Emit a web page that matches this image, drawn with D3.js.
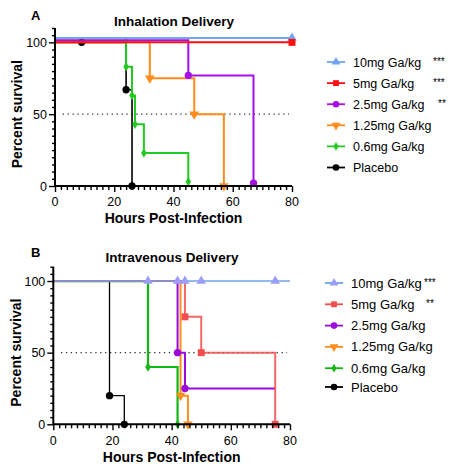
<!DOCTYPE html>
<html><head><meta charset="utf-8">
<script src="https://cdn.jsdelivr.net/npm/d3@7"></script>
<style>body{margin:0;background:#fff}text{font-family:"Liberation Sans",Arial,sans-serif}</style>
</head><body><svg id="c" width="451" height="464"></svg>
<script>
// ---------- data ----------
const groups = ["10mg Ga/kg","5mg Ga/kg","2.5mg Ga/kg","1.25mg Ga/kg","0.6mg Ga/kg","Placebo"];
const symbolsA = ["triangle","square","circle","triangleDown","diamond","circle"];
const xTicks = [0,20,40,60,80];
const yTicks = [0,50,100];

// Panel A (inhalation): start value, events [time, new survival], end time, censor marks
const inhStart = [103, 100, 101.5, 100, 102.8, 100];
const inhEvents = [
  [],
  [],
  [[45,77],[67,2]],
  [[32,75],[47,50],[57,0]],
  [[24,83],[26,63],[27,43],[30,23],[45,3]],
  [[24,67],[26,0]]
];
const inhEnd = [80, 80, 67, 57, 45, 26];
const inhCensor = [[[80,103]],[[80,100]],[],[],[],[[9,100]]];
const inhStars = ["***","***","**","","",""];

// Panel B (intravenous)
const ivStart = [100, 100, 100, 100, 100, 100];
const ivEvents = [
  [],
  [[44.5,75],[50,50],[75,0]],
  [[42,50],[44.5,25]],
  [[43,20],[45.5,0]],
  [[32,40],[42,0]],
  [[19,20],[24,0]]
];
const ivEnd = [80, 75, 75, 45.5, 42, 24];
const ivCensor = [[[32,100],[42,100],[44.5,100],[50,100],[75,100]],[],[],[],[],[]];
const ivStars = ["***","**","","","",""];

// ---------- styling ----------
const colA = ["#6fa6f2","#ff1010","#a610e8","#ff8c1a","#22c922","#000000"];
const colB = ["#72a2ee","#f44d4d","#9a0ad8","#ff8e1e","#14b814","#000000"];
const mkB0 = "#9d9cf7";

const svg = d3.select("#c");
const symMap = {triangle:d3.symbolTriangle, square:d3.symbolSquare, circle:d3.symbolCircle, diamond:d3.symbolDiamond};
function sym(g, name, x, y, color, size){
  let s = name==="triangleDown" ? d3.symbolTriangle : symMap[name];
  let sz = size || (name==="square"?48:name==="diamond"?26:name.startsWith("triangle")?40:42);
  g.append("path").attr("d", d3.symbol().type(s).size(sz)())
   .attr("transform", `translate(${x},${y})` + (name==="triangleDown"?" rotate(180)":""))
   .attr("fill", color);
}

function panel(cfg){
  const x = d3.scaleLinear().domain([0,80]).range([cfg.x0, cfg.x1]);
  const y = d3.scaleLinear().domain([0,110]).range([cfg.y0, cfg.y1]);
  const g = svg.append("g");
  // titles
  g.append("text").attr("x",cfg.letterX).attr("y",cfg.letterY).attr("font-weight","bold").attr("font-size",13).text(cfg.letter);
  g.append("text").attr("x",cfg.titleX).attr("y",cfg.titleY).attr("text-anchor","middle").attr("font-weight","bold").attr("font-size",13.5).text(cfg.title);
  g.append("text").attr("transform",`translate(${cfg.ylabX},${(y(0)+y(100))/2}) rotate(-90)`).attr("text-anchor","middle").attr("font-weight","bold").attr("font-size",14).text("Percent survival");
  g.append("text").attr("x",(x(0)+x(80))/2).attr("y",cfg.xlabY).attr("text-anchor","middle").attr("font-weight","bold").attr("font-size",14).text("Hours Post-Infection");
  // dotted median line
  g.append("line").attr("x1",x(2.6)).attr("x2",x(79)).attr("y1",y(50)).attr("y2",y(50))
   .attr("stroke","#333").attr("stroke-width",1.2).attr("stroke-dasharray","1.3,3.6");
  // curves
  const line = d3.line().x(d=>x(d[0])).y(d=>y(d[1])).curve(d3.curveStepAfter);
  cfg.order.forEach(i=>{
    const pts = [[0,cfg.start[i]], ...cfg.events[i]];
    const last = pts[pts.length-1][1];
    pts.push([cfg.end[i], last]);
    g.append("path").attr("d",line(pts)).attr("fill","none").attr("stroke",cfg.col[i])
      .attr("stroke-width",cfg.lw[i]).attr("stroke-opacity",cfg.op ? cfg.op[i] : 1);
    cfg.events[i].forEach(e=>sym(g, symbolsA[i], x(e[0]), y(e[1]), cfg.col[i]));
    cfg.censor[i].forEach(e=>sym(g, symbolsA[i], x(e[0]), y(e[1]), cfg.mk0 && i===0 ? cfg.mk0 : cfg.col[i]));
  });
  // axes
  const ax = g.append("g").attr("transform",`translate(0,${y(0)})`);
  ax.call(d3.axisBottom(x).tickValues(d3.range(0,81,2)).tickSize(4).tickFormat(""));
  ax.call(g2=>g2.selectAll(".tick").filter(d=>d%20===0).select("line").attr("y2",6));
  ax.selectAll("text").remove();
  xTicks.forEach(t=>ax.append("text").attr("x",x(t)).attr("y",cfg.xtickDy).attr("text-anchor","middle").attr("font-size",12.5).attr("fill","#000").text(t));
  const ay = g.append("g").attr("transform",`translate(${x(0)},0)`);
  ay.call(d3.axisLeft(y).tickValues(d3.range(0,111,5)).tickSize(3).tickFormat(""));
  ay.call(g2=>g2.selectAll(".tick").filter(d=>d%50===0).select("line").attr("x2",-6));
  yTicks.forEach(t=>ay.append("text").attr("x",-8).attr("y",y(t)+4.5).attr("text-anchor","end").attr("font-size",12.5).attr("fill","#000").text(t));
  [ax,ay].forEach(a=>{a.select(".domain").attr("stroke-width",2).attr("stroke","#000");
    a.selectAll(".tick line").attr("stroke-width",1.4).attr("stroke","#000");});
  ay.select(".domain").attr("d",`M0,${y(110)}V${y(0)}`);
  ax.select(".domain").attr("d",`M${x(0)},0H${x(80)}`);
  // legend
  groups.forEach((name,i)=>{
    const ly = cfg.legY + i*cfg.legDy - (i===5?cfg.legLastAdj:0);
    const lc = cfg.col[i];
    g.append("line").attr("x1",cfg.legX).attr("x2",cfg.legX+18).attr("y1",ly).attr("y2",ly).attr("stroke",lc).attr("stroke-width",1.8);
    sym(g, symbolsA[i], cfg.legX+9, ly, cfg.mk0 && i===0 ? cfg.mk0 : lc, symbolsA[i]==="diamond"?22:34);
    g.append("text").attr("x",cfg.legX+26).attr("y",ly+4.5).attr("font-size",cfg.legFs).attr("fill","#000").text(name);
    if(cfg.stars[i]) g.append("text").attr("x",cfg.starX[i]).attr("y",ly+3).attr("font-size",10).attr("fill","#000").text(cfg.stars[i]);
  });
}

panel({x0:55,x1:292,y0:186,y1:28,letter:"A",letterX:31,letterY:20,title:"Inhalation Delivery",titleX:174,titleY:26,
  ylabX:22,xlabY:223,xtickDy:20,start:inhStart,events:inhEvents,end:inhEnd,censor:inhCensor,
  col:colA,lw:[2,2,2,2,2,1.6],order:[5,3,4,2,0,1],
  legX:327,legY:62,legDy:21.1,legLastAdj:0,legFs:12.5,stars:inhStars,starX:[433,433,438]});

panel({x0:53.3,x1:290,y0:424.3,y1:266.7,letter:"B",letterX:31,letterY:257,title:"Intravenous Delivery",titleX:172,titleY:261.5,
  ylabX:21,xlabY:461.5,xtickDy:20.5,start:ivStart,events:ivEvents,end:ivEnd,censor:ivCensor,
  col:colB,lw:[1.4,2,2,2,2.2,1.3],op:[1,0.85,1,1,1,1],order:[5,4,3,2,1,0],mk0:mkB0,
  legX:325,legY:283,legDy:21.3,legLastAdj:2.5,legFs:13,stars:ivStars,starX:[424,426]});
</script></body></html>
